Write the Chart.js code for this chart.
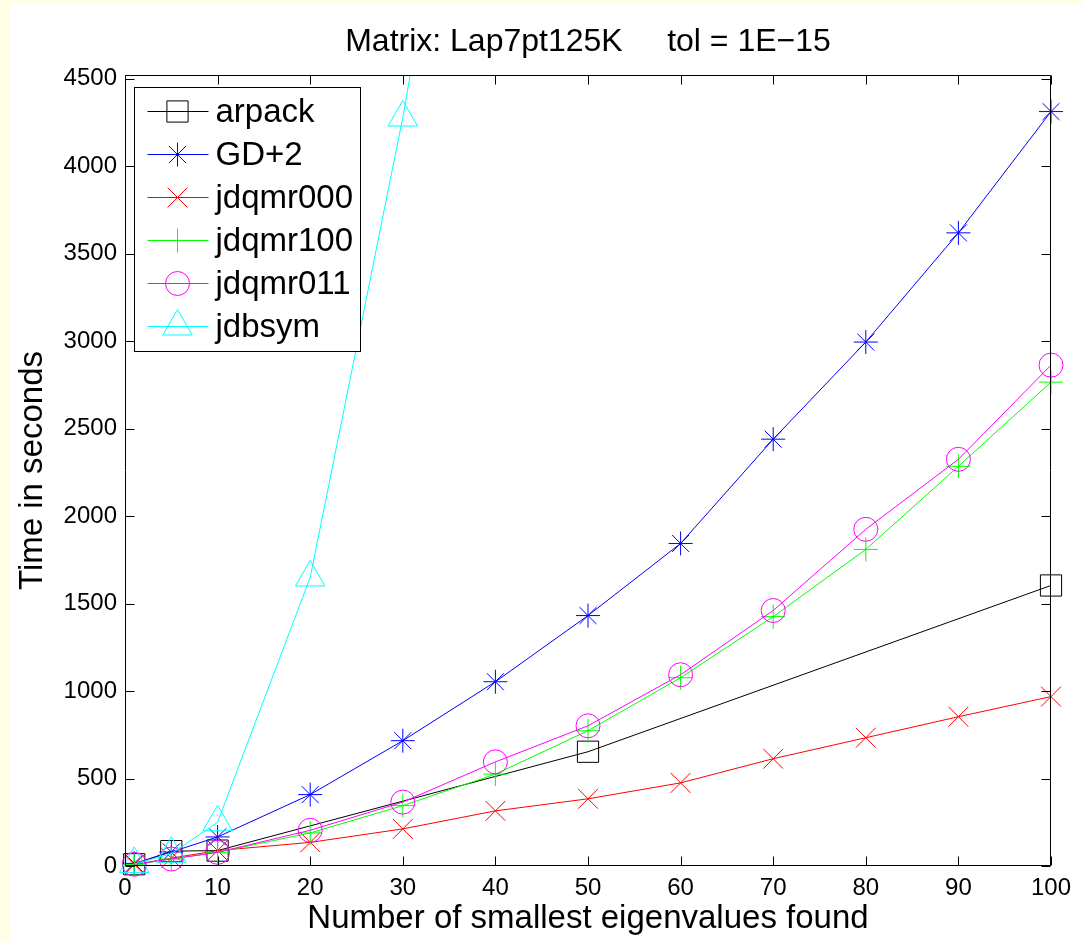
<!DOCTYPE html>
<html>
<head>
<meta charset="utf-8">
<script src="https://cdn.jsdelivr.net/npm/chart.js@4.4.1/dist/chart.umd.min.js"></script>
<style>
  html, body { margin: 0; padding: 0; background: #ffffe6; }
  #wrap { width: 1083px; height: 942px; }
</style>
</head>
<body>
<div id="wrap"><canvas id="chart" width="1083" height="942"></canvas></div>
<script>
// number of eigenvalues found (x)
const nevs = [1, 5, 10, 20, 30, 40, 50, 60, 70, 80, 90, 100];
const arpackNevs = [1, 5, 10, 50, 100];
const jdbsymNevs = [1, 5, 10, 20, 30, 40];

// time in seconds
const arpack = [10, 85, 88, 653, 1603];
const gd2 = [15, 80, 166, 408, 716, 1053, 1431, 1843, 2439, 2994, 3618, 4311];
const jdqmr000 = [8, 45, 88, 135, 212, 315, 384, 475, 613, 733, 853, 968];
const jdqmr100 = [8, 40, 78, 189, 345, 525, 773, 1076, 1425, 1809, 2284, 2765];
const jdqmr011 = [10, 40, 78, 204, 365, 595, 801, 1093, 1460, 1924, 2324, 2862];
const jdbsym = [12, 70, 250, 1649, 4277, 7300];

const xTicks = [0, 10, 20, 30, 40, 50, 60, 70, 80, 90, 100];
const yTicks = [0, 500, 1000, 1500, 2000, 2500, 3000, 3500, 4000, 4500];

const FONT = '"Liberation Sans", Arial, Helvetica, sans-serif';

const toPoints = (xs, ys) => xs.map((x, i) => ({ x: x, y: ys[i] }));

const series = (label, xs, ys, color, style, radius, order) => {
  return {
    label: label,
    data: toPoints(xs, ys),
    borderColor: color,
    borderWidth: 1,
    pointStyle: style,
    pointRadius: radius,
    pointBorderColor: color,
    pointBackgroundColor: 'rgba(0,0,0,0)',
    pointBorderWidth: 1,
    fill: false,
    tension: 0,
    order: order,
    clip: { left: 30, right: 30, top: 0, bottom: 30 }
  };
};

const bgPlugin = {
  id: 'figureBg',
  beforeDraw(chart) {
    const ctx = chart.ctx;
    ctx.save();
    ctx.fillStyle = '#ffffe6';
    ctx.fillRect(0, 0, chart.width, chart.height);
    ctx.fillStyle = '#ffffff';
    ctx.fillRect(10, 4, chart.width - 10, chart.height - 4);
    ctx.restore();
  }
};

// axes box with inward ticks on all four sides
const framePlugin = {
  id: 'frame',
  afterDatasetsDraw(chart) {
    const ctx = chart.ctx;
    const a = chart.chartArea;
    const xs = chart.scales.x, ys = chart.scales.y;
    const L = Math.round(a.left) + 0.5, R = Math.round(a.right) - 0.5;
    const T = Math.round(a.top) + 0.5, B = Math.round(a.bottom) - 0.5;
    const len = 9;
    ctx.save();
    ctx.strokeStyle = '#000';
    ctx.lineWidth = 1;
    ctx.beginPath();
    ctx.rect(L, T, R - L, B - T);
    xTicks.forEach(v => {
      const px = Math.round(xs.getPixelForValue(v)) + 0.5;
      ctx.moveTo(px, B); ctx.lineTo(px, B - len);
      ctx.moveTo(px, T); ctx.lineTo(px, T + len);
    });
    yTicks.forEach(v => {
      const py = Math.round(ys.getPixelForValue(v)) + 0.5;
      ctx.moveTo(L, py); ctx.lineTo(L + len, py);
      ctx.moveTo(R, py); ctx.lineTo(R - len, py);
    });
    ctx.stroke();
    ctx.restore();
  }
};

// MATLAB style legend box in the upper left corner
const boxLegend = {
  id: 'boxLegend',
  afterDatasetsDraw(chart) {
    const ctx = chart.ctx;
    const a = chart.chartArea;
    const left = Math.round(a.left) + 9.5, top = Math.round(a.top) + 12.5;
    const w = 226, h = 264, rowH = 43;
    ctx.save();
    ctx.fillStyle = '#ffffff';
    ctx.fillRect(left, top, w, h);
    ctx.strokeStyle = '#000';
    ctx.lineWidth = 1;
    ctx.strokeRect(left, top, w, h);
    chart.data.datasets.forEach((ds, i) => {
      const y = top + 24 + i * rowH;
      ctx.strokeStyle = ds.borderColor;
      ctx.lineWidth = 1;
      ctx.beginPath();
      ctx.moveTo(left + 13, y);
      ctx.lineTo(left + 74, y);
      ctx.stroke();
      ctx.fillStyle = 'rgba(0,0,0,0)';
      if (Chart.helpers && Chart.helpers.drawPoint) {
        Chart.helpers.drawPoint(ctx, {
          pointStyle: ds.pointStyle,
          rotation: 0,
          radius: ds.pointRadius,
          borderWidth: 1
        }, left + 43, y);
      }
      ctx.fillStyle = '#000';
      ctx.font = '33px ' + FONT;
      ctx.textBaseline = 'middle';
      ctx.textAlign = 'left';
      ctx.fillText(ds.label, left + 81, y + 1);
    });
    ctx.restore();
  }
};

const chart = new Chart('chart', {
  type: 'line',
  data: {
    datasets: [
      series('arpack', arpackNevs, arpack, '#000000', 'rect', 15, 5),
      series('GD+2', nevs, gd2, '#0000ff', 'star', 12, 4),
      series('jdqmr000', nevs, jdqmr000, '#ff0000', 'crossRot', 14, 3),
      series('jdqmr100', nevs, jdqmr100, '#00ff00', 'cross', 12, 2),
      series('jdqmr011', nevs, jdqmr011, '#ff00ff', 'circle', 12, 1),
      series('jdbsym', jdbsymNevs, jdbsym, '#00ffff', 'triangle', 17, 0)
    ]
  },
  options: {
    responsive: false,
    animation: false,
    devicePixelRatio: 1,
    layout: { padding: { left: 0, top: 0, right: 32, bottom: 0 } },
    plugins: {
      legend: { display: false },
      tooltip: { enabled: false },
      title: {
        display: true,
        fullSize: false,
        text: 'Matrix: Lap7pt125K     tol = 1E\u221215',
        color: '#000',
        font: { family: FONT, size: 32, weight: 'normal', lineHeight: 1.2 },
        padding: { top: 23, bottom: 13.6 }
      }
    },
    scales: {
      x: {
        type: 'linear',
        min: 0,
        max: 100,
        grid: { display: false, drawTicks: false },
        border: { display: false },
        afterBuildTicks: (scale) => { scale.ticks = xTicks.map(v => ({ value: v })); },
        afterFit: (scale) => { scale.height = 76; },
        ticks: {
          color: '#000',
          padding: 8,
          maxRotation: 0,
          callback: (v) => String(v),
          font: { family: FONT, size: 24, lineHeight: 1.2 }
        },
        title: {
          display: true,
          text: 'Number of smallest eigenvalues found',
          color: '#000',
          font: { family: FONT, size: 33, lineHeight: 1.2 },
          padding: { top: 0, bottom: 3 }
        }
      },
      y: {
        type: 'linear',
        min: 0,
        max: 4520,
        grid: { display: false, drawTicks: false },
        border: { display: false },
        afterBuildTicks: (scale) => { scale.ticks = yTicks.map(v => ({ value: v })); },
        afterFit: (scale) => { scale.width = 125; },
        ticks: {
          color: '#000',
          padding: 8,
          callback: (v) => String(v),
          font: { family: FONT, size: 24, lineHeight: 1.2 }
        },
        title: {
          display: true,
          text: 'Time in seconds',
          color: '#000',
          font: { family: FONT, size: 33, lineHeight: 1.2 },
          padding: { top: 13, bottom: 0 }
        }
      }
    }
  },
  plugins: [bgPlugin, framePlugin, boxLegend]
});
</script>
</body>
</html>
